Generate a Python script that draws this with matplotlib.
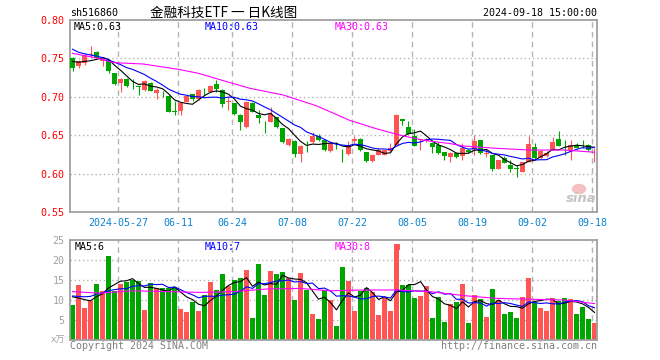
import numpy as np
import pandas as pd
import matplotlib
matplotlib.use("Agg")
import matplotlib.pyplot as plt
from matplotlib.patches import Rectangle, Ellipse

# ---- data (sh516860, daily) ----
opens = [.750, .740, .7445, .755, .758, .747, .748, .7306, .7184, .7232,
         .714, .7135, .7089, .7184, .7054, .7024, .7011, .681, .682, .6933,
         .7033, .6967, .709, .7067, .7163, .7089, .6935, .6915, .6763, .6603,
         .6924, .6759, .6686, .6675, .6737, .6588, .6377, .643, .626, .6347,
         .6417, .6496, .6434, .629, .6335, .632, .6259, .6421, .6456, .628,
         .6158, .6246, .6246, .629, .6377, .6715, .661, .6496, .644, .643,
         .6404, .6373, .6285, .622, .6272, .6228, .631, .6316, .6439, .626,
         .6241, .6066, .6197, .611, .6066, .6022, .6154, .6351, .6197, .6228,
         .6307, .6452, .6373, .6307, .6373, .6386, .6373, .6316]
highs = [.752, .748, .756, .766, .759, .751, .749, .731, .724, .724,
         .723, .714, .722, .719, .712, .707, .702, .694, .693, .702,
         .704, .710, .711, .715, .722, .710, .7002, .692, .677, .694,
         .693, .6825, .669, .6873, .674, .659, .647, .644, .637, .643,
         .654, .6522, .645, .641, .6408, .6325, .642, .6496, .6458, .628,
         .625, .6333, .631, .640, .6772, .6717, .6684, .6575, .6445, .646,
         .641, .641, .6285, .6285, .628, .6404, .632, .6504, .644, .6316,
         .6241, .618, .6228, .6175, .611, .615, .6496, .6395, .6305, .629,
         .6482, .6557, .6439, .644, .6404, .6439, .639, .633]
lows = [.734, .738, .742, .752, .7495, .740, .731, .715, .7067, .713,
        .710, .7025, .708, .7075, .697, .700, .680, .6763, .6763, .6928,
        .6945, .696, .7024, .706, .7067, .6872, .6829, .676, .6568, .659,
        .680, .666, .653, .6675, .660, .640, .636, .622, .6145, .6276,
        .640, .642, .630, .6285, .632, .6145, .6246, .640, .630, .6155,
        .615, .624, .624, .628, .6375, .663, .652, .636, .631, .641,
        .6263, .625, .6175, .6153, .6197, .6175, .627, .6241, .625, .622,
        .604, .6055, .6132, .6022, .5956, .602, .6154, .6175, .619, .622,
        .6307, .636, .6241, .6175, .6329, .6329, .630, .6153]
closes = [.737, .746, .7545, .756, .750, .750, .733, .7167, .7232, .714,
          .7135, .713, .7206, .708, .7089, .702, .6807, .6805, .6924, .7011,
          .6967, .7089, .7085, .7145, .7097, .6902, .6938, .6772, .6677, .6937,
          .6807, .6724, .6684, .6772, .661, .6408, .6456, .626, .6364, .6345,
          .6496, .6434, .6311, .640, .633, .6318, .6377, .6456, .6303, .6158,
          .6246, .6311, .6303, .6333, .6759, .6684, .652, .636, .6445, .6445,
          .6342, .6272, .6228, .6272, .6211, .6329, .6285, .643, .6263, .6265,
          .6066, .6175, .614, .6066, .6062, .615, .6386, .6197, .6294, .6272,
          .6417, .636, .6369, .6373, .6329, .638, .6307, .632]
volumes = [8.75, 13.75, 8.0, 9.75, 14.0, 12.25, 21.0, 12.25, 14.0, 14.5,
           15.0, 14.75, 7.5, 14.25, 13.0, 13.0, 13.0, 13.25, 7.75, 7.0,
           9.5, 7.25, 11.25, 14.5, 12.5, 16.5, 13.5, 15.0, 15.5, 17.5,
           5.5, 19.0, 11.25, 17.25, 16.5, 17.0, 15.5, 10.0, 16.75, 12.5,
           6.5, 5.25, 12.5, 10.0, 3.5, 18.25, 14.75, 7.25, 12.25, 13.0,
           12.0, 6.25, 10.5, 7.25, 24.0, 13.75, 13.75, 10.5, 11.0, 13.5,
           5.5, 10.75, 4.5, 9.0, 9.5, 14.0, 4.25, 11.25, 10.25, 5.75,
           12.75, 10.0, 6.5, 7.0, 5.5, 10.75, 15.5, 9.5, 8.0, 7.25,
           10.5, 9.75, 10.5, 10.25, 6.5, 8.25, 5.25, 4.25]

# moving-average starts (need history before the window)
ma5_head = [.746, .745, .746, .747]
ma10_head = [.762, .758, .756, .7545, .753, .751, .748, .745, .742]
ma30_idx = [0, 3.5, 6.8, 11.8, 17.6, 21, 25.7, 29.6, 35, 40.7, 46.2, 50.7,
            54.6, 58.5, 63, 65.1, 70.7, 76.25, 81.8, 87]
ma30_val = [.7566, .7514, .7445, .7427, .7358, .7306, .7197, .711, .7026,
            .6882, .6693, .6583, .650, .6434, .639, .636, .6329, .6307,
            .6307, .6278]
vma5_head = [10.8, 10.5, 10.1, 9.8]
vma10_head = [11.0, 10.9, 10.8, 10.9, 11.5, 11.8, 12.3, 12.6, 12.8]
vma30_idx = [0, 4.6, 10.1, 15.7, 21.25, 26.8, 32.4, 37.9, 42.9, 48.5, 54.1,
             59.6, 65.2, 70.7, 76.25, 81.8, 87]
vma30_val = [12.1, 11.7, 12.3, 12.1, 11.9, 12.1, 12.75, 12.9, 12.3, 12.5,
             12.5, 12.1, 11.1, 10.4, 10.2, 10.0, 9.1]

tick_idx = [8, 18, 27, 37, 47, 57, 67, 77, 87]
tick_labels = ['2024-05-27', '06-11', '06-24', '07-08', '07-22', '08-05',
               '08-19', '09-02', '09-18']

RED = '#ff5555'
GREEN = '#00a600'
GRID = '#b4b4b4'
SPINE = '#a0a0a0'
MONO = 'DejaVu Sans Mono'
FS = 7.2
W, H = 660, 360


def px(x, y):
    return x / W, 1 - y / H


o = np.array(opens); h = np.array(highs); l = np.array(lows); c = np.array(closes)
v = np.array(volumes)
x = np.arange(len(c))
up = c >= o
cols = np.where(up, RED, GREEN)

ma5 = pd.Series(c).rolling(5).mean().values
ma5[:4] = ma5_head
ma10 = pd.Series(c).rolling(10).mean().values
ma10[:9] = ma10_head
vma5 = pd.Series(v).rolling(5).mean().values
vma5[:4] = vma5_head
vma10 = pd.Series(v).rolling(10).mean().values
vma10[:9] = vma10_head

fig = plt.figure(figsize=(6.6, 3.6), dpi=100)
ax = fig.add_axes([70 / W, 1 - 212 / H, 527 / W, 192 / H])
axv = fig.add_axes([70 / W, 1 - 340 / H, 527 / W, 100 / H])

xl = (-2.5 / 6, 87 + 2.5 / 6)
grid_x = [t - 2.5 / 6 for t in tick_idx]

for a in (ax, axv):
    a.set_xlim(*xl)
    for s in a.spines.values():
        s.set_color(SPINE)
        s.set_linewidth(1.3)
    for gx in grid_x:
        a.axvline(gx, color=GRID, lw=1, ls=(0, (4, 3)), zorder=0)
    a.tick_params(length=0)

# price candles
body_lo = np.minimum(o, c)
body_h = np.maximum(np.abs(c - o), 0.0007)
ax.vlines(x, l, h, colors=cols, lw=0.8, zorder=2)
ax.bar(x, body_h, bottom=body_lo, width=5 / 6, color=cols, linewidth=0, zorder=3)
ax.plot(x, ma5, color='black', lw=0.8, zorder=4)
ax.plot(x, ma10, color='#0000ff', lw=0.8, zorder=4)
ax.plot(ma30_idx, ma30_val, color='#ff00ff', lw=0.8, zorder=4)
ax.set_ylim(0.55, 0.80)
ax.set_yticks([0.55, 0.60, 0.65, 0.70, 0.75, 0.80])
ax.set_yticklabels(['%.2f' % t for t in [0.55, 0.60, 0.65, 0.70, 0.75, 0.80]],
                   color='#ff0000', fontsize=FS, family=MONO)
for gy in [0.60, 0.65, 0.70, 0.75]:
    ax.axhline(gy, color=GRID, lw=1, ls=(0, (1, 2)), zorder=0)
ax.set_xticks(grid_x)
ax.set_xticklabels(tick_labels, color='#0a82d2', fontsize=FS, family=MONO)
ax.tick_params(axis='x', pad=4)
ax.tick_params(axis='y', pad=4)

# volume
axv.bar(x, v, width=5 / 6, color=cols, linewidth=0, zorder=2)
axv.plot(x, vma5, color='black', lw=0.8, zorder=4)
axv.plot(x, vma10, color='#0000ff', lw=0.8, zorder=4)
axv.plot(vma30_idx, vma30_val, color='#ff00ff', lw=0.8, zorder=4)
axv.set_ylim(0, 25)
axv.set_yticks([5, 10, 15, 20, 25])
axv.set_yticklabels(['5', '10', '15', '20', '25'], color='#a0a0a0',
                    fontsize=FS, family=MONO)
axv.tick_params(axis='y', pad=4)
axv.set_xticks([])
for gy in [5, 10, 15, 20]:
    axv.axhline(gy, color=GRID, lw=1, ls=(0, (1, 2)), zorder=0)

# header texts
fig.text(*px(70, 13.5), 'sh516860', fontsize=FS, family=MONO, va='center')
fig.text(*px(150, 12.5), '金融科技ETF 一 日K线图', fontsize=9.8,
         family=['Noto Sans CJK SC', 'DejaVu Sans'], va='center')
fig.text(*px(597, 13.5), '2024-09-18 15:00:00', fontsize=FS, family=MONO,
         va='center', ha='right')

fig.text(*px(74, 27), 'MA5:0.63', fontsize=FS, family=MONO, va='center', color='black')
fig.text(*px(205, 27), 'MA10:0.63', fontsize=FS, family=MONO, va='center', color='#0000ff')
fig.text(*px(335, 27), 'MA30:0.63', fontsize=FS, family=MONO, va='center', color='#ff00ff')

fig.text(*px(75, 247), 'MA5:6', fontsize=FS, family=MONO, va='center', color='black')
fig.text(*px(205, 247), 'MA10:7', fontsize=FS, family=MONO, va='center', color='#0000ff')
fig.text(*px(335, 247), 'MA30:8', fontsize=FS, family=MONO, va='center', color='#ff00ff')
# small red marker after the volume legend
axv.add_patch(Rectangle(((394 - 70) / 527, (340 - 250) / 100), 6 / 527, 6 / 100,
                        facecolor=RED, edgecolor='none', transform=axv.transAxes,
                        zorder=10, clip_on=False))

fig.text(*px(65, 340), 'x万', fontsize=6.5, family=[MONO, 'Noto Sans CJK SC'],
         va='center', ha='right', color='#a0a0a0')
fig.text(*px(70, 346), 'Copyright 2024 SINA.COM', fontsize=FS, family=MONO,
         va='center', color='#808080')
fig.text(*px(597, 346), 'http://finance.sina.com.cn', fontsize=FS, family=MONO,
         va='center', ha='right', color='#808080')

# sina watermark
fig.add_artist(Ellipse(px(579, 189), 13 / W, 9 / H, color='#f5c0c0',
                       transform=fig.transFigure, zorder=1))
fig.text(*px(581, 199), 'sina', fontsize=9.5, fontweight='bold', style='italic',
         color='#c4c4c4', ha='center', va='center')

fig.savefig('out.png', dpi=100)
